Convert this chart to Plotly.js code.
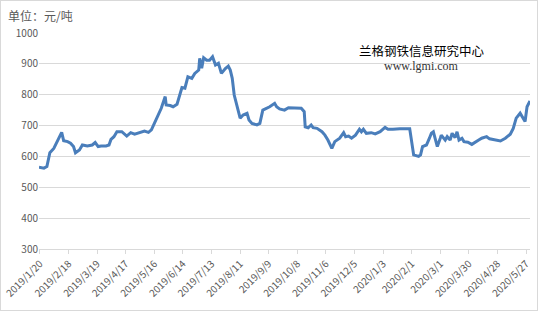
<!DOCTYPE html>
<html>
<head>
<meta charset="utf-8">
<script src="https://cdn.plot.ly/plotly-3.0.1.min.js"></script>
<style>
html,body{margin:0;padding:0;background:#fff;}
#wrap{position:relative;width:538px;height:311px;}
#chart{width:538px;height:311px;}
#frame{position:absolute;left:0;top:0;width:538px;height:311px;box-sizing:border-box;border:1px solid #d9d9d9;pointer-events:none;}
</style>
</head>
<body>
<div id="wrap"><div id="chart"></div><div id="frame"></div></div>
<script>
const dates = [
"2019-01-19","2019-01-24","2019-01-27","2019-01-30","2019-02-03","2019-02-10","2019-02-11","2019-02-13","2019-02-17","2019-02-20",
"2019-02-23","2019-02-25","2019-03-01","2019-03-04","2019-03-09","2019-03-14","2019-03-17","2019-03-20","2019-03-23","2019-03-28",
"2019-03-31","2019-04-02","2019-04-05","2019-04-08","2019-04-13","2019-04-18","2019-04-22","2019-04-26","2019-05-01","2019-05-06",
"2019-05-10","2019-05-13","2019-05-16","2019-05-20","2019-05-23","2019-05-27","2019-05-28","2019-06-01","2019-06-04","2019-06-08",
"2019-06-11","2019-06-13","2019-06-16","2019-06-19","2019-06-23","2019-06-26","2019-06-30","2019-07-01","2019-07-03","2019-07-05",
"2019-07-08","2019-07-11","2019-07-14","2019-07-17","2019-07-20","2019-07-23","2019-07-27","2019-07-30","2019-08-01","2019-08-03",
"2019-08-05","2019-08-08","2019-08-11","2019-08-14","2019-08-18","2019-08-20","2019-08-23","2019-08-28","2019-08-31","2019-09-03",
"2019-09-07","2019-09-10","2019-09-15","2019-09-17","2019-09-20","2019-09-25","2019-09-29","2019-10-06","2019-10-12","2019-10-15",
"2019-10-16","2019-10-19","2019-10-22","2019-10-24","2019-10-28","2019-11-02","2019-11-05","2019-11-08","2019-11-12","2019-11-15",
"2019-11-20","2019-11-24","2019-11-26","2019-11-29","2019-12-02","2019-12-06","2019-12-10","2019-12-12","2019-12-14","2019-12-17",
"2019-12-22","2019-12-26","2019-12-31","2020-01-05","2020-01-08","2020-01-13","2020-01-20","2020-01-30","2020-02-01","2020-02-03",
"2020-02-08","2020-02-10","2020-02-12","2020-02-16","2020-02-19","2020-02-21","2020-02-23","2020-02-25","2020-02-27","2020-03-01",
"2020-03-02","2020-03-06","2020-03-08","2020-03-11","2020-03-13","2020-03-16","2020-03-18","2020-03-20","2020-03-23","2020-03-25",
"2020-03-29","2020-04-02","2020-04-05","2020-04-09","2020-04-12","2020-04-17","2020-04-20","2020-04-25","2020-05-01","2020-05-06",
"2020-05-11","2020-05-14","2020-05-17","2020-05-21","2020-05-23","2020-05-26","2020-05-28","2020-05-31"
];
const prices = [
565,562,567,612,626,675,678,651,648,643,
632,612,621,637,634,637,645,632,634,634,
637,655,664,680,680,666,677,672,678,682,
678,686,707,734,756,794,767,765,761,769,
799,823,821,858,853,869,880,918,886,920,
912,912,923,896,902,869,885,893,880,853,
799,761,724,734,740,718,707,702,707,750,
756,761,772,761,754,750,758,758,756,745,
696,693,702,693,691,680,669,653,626,648,
659,677,664,666,659,669,688,680,688,675,
677,673,680,694,688,688,690,690,653,605,
600,605,632,637,659,675,680,659,632,659,
669,653,664,653,675,661,680,653,659,648,
646,639,646,653,659,664,657,653,650,659,
672,691,724,740,729,713,761,780
];
const tickDates = ["2019-01-20","2019-02-18","2019-03-19","2019-04-17","2019-05-16","2019-06-14","2019-07-13","2019-08-11","2019-09-09","2019-10-08","2019-11-06","2019-12-05","2020-01-03","2020-02-01","2020-03-01","2020-03-30","2020-04-28","2020-05-27"];
const tickLabels = ["2019/1/20","2019/2/18","2019/3/19","2019/4/17","2019/5/16","2019/6/14","2019/7/13","2019/8/11","2019/9/9","2019/10/8","2019/11/6","2019/12/5","2020/1/3","2020/2/1","2020/3/1","2020/3/30","2020/4/28","2020/5/27"];
const yTicks = [300,400,500,600,700,800,900,1000];

const font = "Noto Sans CJK SC, Noto Sans, sans-serif";
Plotly.newPlot('chart', [{
  x: dates, y: prices, type: 'scatter', mode: 'lines',
  line: {color: '#4A7EBB', width: 3}, hoverinfo: 'skip'
}], {
  width: 538, height: 311,
  margin: {l: 39, r: 8, t: 33, b: 62},
  paper_bgcolor: '#fff', plot_bgcolor: '#fff',
  showlegend: false,
  font: {family: font, size: 10, color: '#595959'},
  xaxis: {
    type: 'date', range: ['2019-01-19', '2020-05-31'],
    tickvals: tickDates, ticktext: tickLabels, tickangle: -45,
    showgrid: false, showline: true, linecolor: '#d9d9d9', linewidth: 1,
    ticks: 'outside', ticklen: 4, tickcolor: '#d9d9d9',
    tickfont: {size: 10, color: '#595959'}, zeroline: false
  },
  yaxis: {
    range: [300, 1000], tickvals: yTicks,
    showgrid: true, gridcolor: '#d9d9d9', gridwidth: 1,
    showline: false, ticks: '', zeroline: false,
    tickfont: {size: 10, color: '#595959'}
  },
  annotations: [
    {text: '单位：元/吨', xref: 'paper', yref: 'paper', x: -0.067, y: 1.079, xanchor: 'left', yanchor: 'middle', showarrow: false, font: {family: font, size: 12, color: '#595959'}},
    {text: '兰格钢铁信息研究中心', xref: 'paper', yref: 'paper', x: 0.78, y: 0.921, xanchor: 'center', yanchor: 'middle', showarrow: false, font: {family: font, size: 12.5, color: '#000'}},
    {text: 'www.lgmi.com', xref: 'paper', yref: 'paper', x: 0.78, y: 0.847, xanchor: 'center', yanchor: 'middle', showarrow: false, font: {family: 'Liberation Serif, serif', size: 12, color: '#333'}}
  ]
}, {staticPlot: true});
</script>
</body>
</html>
